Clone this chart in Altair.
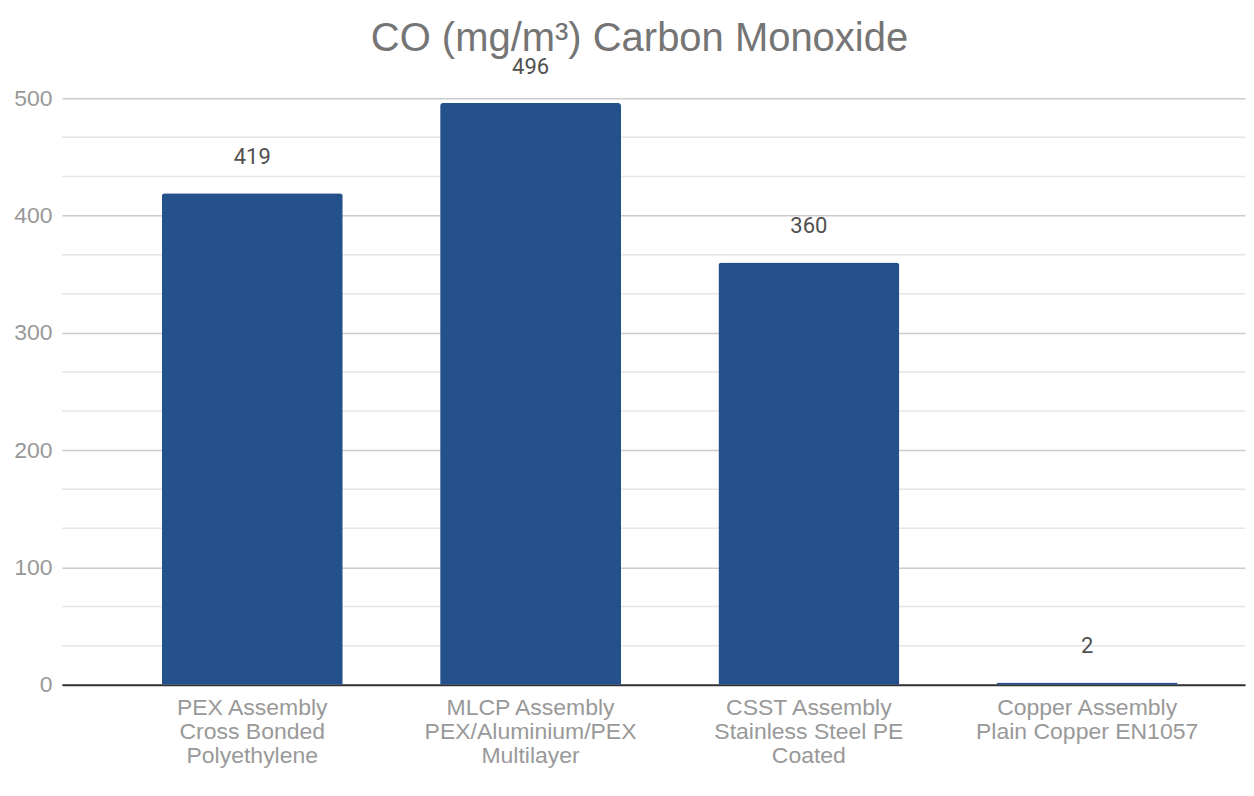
import altair as alt
import pandas as pd

categories = [
    "PEX Assembly|Cross Bonded|Polyethylene",
    "MLCP Assembly|PEX/Aluminium/PEX|Multilayer",
    "CSST Assembly|Stainless Steel PE|Coated",
    "Copper Assembly|Plain Copper EN1057",
]
values = [419, 496, 360, 2]
minor_grid = [100 / 3 * i for i in range(1, 15) if i % 3 != 0]

df = pd.DataFrame({"cat": categories, "val": values})
grid_df = pd.DataFrame({"g": minor_grid})

FONT = "Liberation Sans"

x_enc = alt.X(
    "cat:N",
    sort=None,
    title=None,
    scale=alt.Scale(paddingInner=0.35, paddingOuter=0.3006, align=0.597),
    axis=alt.Axis(
        labelExpr="split(datum.label, '|')",
        labelAngle=0,
        labelFont=FONT,
        labelFontSize=23,
        labelLineHeight=24,
        labelColor="#999999",
        labelPadding=12,
        ticks=False,
        domainColor="#333333",
        domainWidth=2,
        labelLimit=400,
    ),
)
y_scale = alt.Scale(domain=[0, 500], nice=False)

grid = alt.Chart(grid_df).mark_rule(color="#e6e6e6", strokeWidth=1.5).encode(
    y=alt.Y("g:Q", scale=y_scale)
)

bars = alt.Chart(df).mark_bar(
    color="#24518c", cornerRadiusTopLeft=3, cornerRadiusTopRight=3
).encode(
    x=x_enc,
    y=alt.Y(
        "val:Q",
        scale=y_scale,
        title=None,
        axis=alt.Axis(
            values=[0, 100, 200, 300, 400, 500],
            labelFont=FONT,
            labelFontSize=23,
            labelColor="#999999",
            labelPadding=10,
            ticks=False,
            domain=False,
            gridColor="#cccccc",
            gridWidth=1.5,
        ),
    ),
)

labels = alt.Chart(df).mark_text(
    font="Roboto", fontSize=22, color="#505050", dy=-36, baseline="middle"
).encode(
    x=alt.X("cat:N", sort=None),
    y=alt.Y("val:Q", scale=y_scale),
    text=alt.Text("val:Q"),
)

chart = (
    alt.layer(grid, bars, labels)
    .properties(
        width=1184,
        height=587,
        padding={"left": 5, "top": 10, "right": 0, "bottom": 5},
        title=alt.TitleParams(
            "CO (mg/m³) Carbon Monoxide",
            font=FONT,
            fontSize=40,
            fontWeight="normal",
            color="#757575",
            anchor="middle",
            offset=-3,
            dx=-14,
        ),
    )
    .configure_view(stroke=None)
)

chart.save("out.html", embed_options={"renderer": "svg", "actions": False})
